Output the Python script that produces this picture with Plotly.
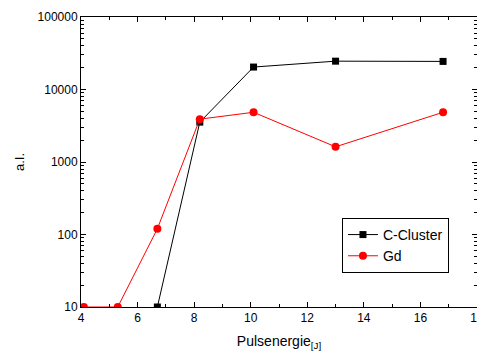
import plotly.graph_objects as go

c_x = [6.7, 8.2, 10.1, 13.0, 16.8]
c_y = [10, 3550, 20400, 24600, 24400]
gd_x = [4.1, 5.3, 6.7, 8.2, 10.1, 13.0, 16.8]
gd_y = [10, 10, 120, 3900, 4850, 1620, 4850]

fig = go.Figure()
fig.add_trace(go.Scatter(x=c_x, y=c_y, mode="lines+markers", name="C-Cluster",
                         line=dict(color="black", width=1),
                         marker=dict(symbol="square", size=7, color="black")))
fig.add_trace(go.Scatter(x=gd_x, y=gd_y, mode="lines+markers", name="Gd",
                         line=dict(color="red", width=1),
                         marker=dict(symbol="circle", size=8, color="red")))

axis_common = dict(showline=True, linecolor="black", linewidth=1, mirror="allticks",
                   ticks="inside", ticklen=5, tickcolor="black", showgrid=False,
                   zeroline=False, automargin=False,
                   tickfont=dict(size=12, color="black"))

fig.update_xaxes(range=[4, 18], dtick=2, tick0=4,
                 minor=dict(ticks="inside", ticklen=3, dtick=1, tickcolor="black", showgrid=False),
                 title=dict(text="Pulsenergie<sub>[J]</sub>", font=dict(size=14, color="black"), standoff=13),
                 **axis_common)
fig.update_yaxes(type="log", range=[1, 5], dtick=1, tickformat="d",
                 minor=dict(ticks="inside", ticklen=3, tickcolor="black", showgrid=False),
                 title=dict(text="a.I.", font=dict(size=13, color="black"), standoff=10),
                 **axis_common)

# the page body adds an 8px offset; compensate in size and margins
fig.update_layout(width=477, height=343, paper_bgcolor="white", plot_bgcolor="white",
                  margin=dict(l=73, r=8, t=9, b=44),
                  font=dict(family="Arial, Liberation Sans", color="black"),
                  legend=dict(x=0.659, y=0.307, xanchor="left", yanchor="top",
                              bordercolor="black", borderwidth=1, bgcolor="white",
                              font=dict(size=14), tracegroupgap=0, itemwidth=30))

fig.write_html("out.html")
